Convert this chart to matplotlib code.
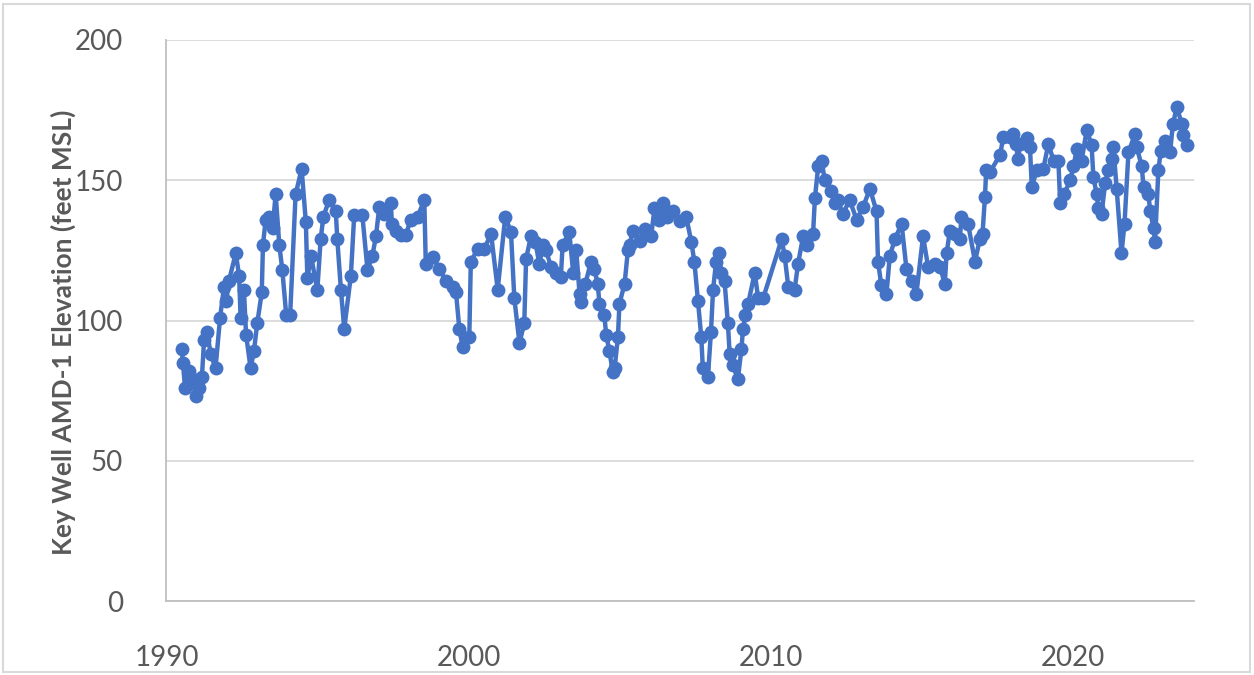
import matplotlib
matplotlib.use("Agg")
import matplotlib.pyplot as plt
from matplotlib.patches import Rectangle

years = [
    1990.49, 1990.53, 1990.60, 1990.73, 1990.85, 1990.95, 1991.05, 1991.16, 1991.23, 1991.33,
    1991.45, 1991.61, 1991.76, 1991.89, 1991.97, 1992.05, 1992.28, 1992.39, 1992.44, 1992.55,
    1992.62, 1992.77, 1992.88, 1992.99, 1993.14, 1993.18, 1993.27, 1993.38, 1993.50, 1993.60,
    1993.72, 1993.82, 1993.95, 1994.08, 1994.26, 1994.46, 1994.60, 1994.65, 1994.77, 1994.98,
    1995.09, 1995.18, 1995.37, 1995.59, 1995.64, 1995.76, 1995.87, 1996.09, 1996.20, 1996.47,
    1996.64, 1996.80, 1996.92, 1997.03, 1997.20, 1997.41, 1997.45, 1997.58, 1997.74, 1997.91,
    1998.07, 1998.30, 1998.52, 1998.57, 1998.80, 1999.02, 1999.24, 1999.46, 1999.57, 1999.68,
    1999.79, 2000.01, 2000.06, 2000.29, 2000.51, 2000.73, 2000.95, 2001.20, 2001.39, 2001.50,
    2001.67, 2001.83, 2001.89, 2002.05, 2002.20, 2002.33, 2002.45, 2002.55, 2002.72, 2002.88,
    2003.04, 2003.10, 2003.32, 2003.45, 2003.55, 2003.66, 2003.71, 2003.85, 2004.04, 2004.15,
    2004.26, 2004.32, 2004.48, 2004.54, 2004.65, 2004.76, 2004.82, 2004.93, 2004.98, 2005.15,
    2005.26, 2005.32, 2005.42, 2005.65, 2005.81, 2006.03, 2006.14, 2006.30, 2006.42, 2006.55,
    2006.75, 2006.97, 2007.19, 2007.36, 2007.46, 2007.58, 2007.69, 2007.74, 2007.91, 2008.01,
    2008.08, 2008.18, 2008.27, 2008.35, 2008.46, 2008.57, 2008.63, 2008.74, 2008.90, 2009.02,
    2009.07, 2009.15, 2009.24, 2009.46, 2009.57, 2009.74, 2010.35, 2010.45, 2010.57, 2010.78,
    2010.89, 2011.06, 2011.20, 2011.39, 2011.45, 2011.56, 2011.67, 2011.78, 2012.00, 2012.10,
    2012.20, 2012.38, 2012.60, 2012.83, 2013.05, 2013.27, 2013.49, 2013.54, 2013.65, 2013.82,
    2013.93, 2014.10, 2014.32, 2014.48, 2014.65, 2014.81, 2015.03, 2015.20, 2015.42, 2015.60,
    2015.75, 2015.81, 2015.92, 2016.10, 2016.25, 2016.30, 2016.52, 2016.75, 2016.91, 2017.00,
    2017.08, 2017.12, 2017.25, 2017.58, 2017.69, 2017.91, 2018.02, 2018.10, 2018.18, 2018.24,
    2018.46, 2018.57, 2018.63, 2018.79, 2019.01, 2019.18, 2019.35, 2019.51, 2019.57, 2019.70,
    2019.90, 2020.01, 2020.12, 2020.28, 2020.45, 2020.61, 2020.67, 2020.78, 2020.83, 2020.94,
    2021.06, 2021.16, 2021.28, 2021.33, 2021.44, 2021.60, 2021.70, 2021.83, 2022.05, 2022.10,
    2022.27, 2022.33, 2022.49, 2022.55, 2022.66, 2022.71, 2022.82, 2022.90, 2023.05, 2023.21,
    2023.30, 2023.43, 2023.60, 2023.65, 2023.76,
]

elevation = [
    90, 85, 76, 82, 79, 73, 76, 80, 93, 96,
    88, 83, 101, 112, 107, 114, 124, 116, 101, 111,
    95, 83, 89, 99, 110, 127, 136, 137, 133, 145,
    127, 118, 102, 102, 145, 154, 135, 115, 123, 111,
    129, 137, 143, 139, 129, 111, 97, 116, 137.5, 137.5,
    118, 123, 130, 140.5, 138, 142, 134.5, 132, 130.5, 130.5,
    136, 137, 143, 120, 122.5, 118.5, 114, 112, 110, 97,
    90.5, 94, 121, 125.5, 125.5, 131, 111, 137, 131.5, 108,
    92, 99, 122, 130, 128, 120, 127, 125, 119, 117,
    115.5, 127, 131.5, 117, 125, 109.5, 106.5, 113, 121, 118.5,
    113, 106, 102, 95, 89, 81.5, 83, 94, 106, 113,
    125, 127, 132, 128.5, 132.5, 130, 140, 136, 142, 137,
    139, 135.5, 137, 128, 121, 107, 94, 83, 80, 96,
    111, 121, 124, 117, 114, 99, 88, 84, 79, 90,
    97, 102, 106, 117, 108, 108, 129, 123, 112, 111,
    120, 130, 127, 131, 143.5, 155, 157, 150, 146, 142,
    143, 138, 143, 136, 140.5, 147, 139, 121, 112.5, 109.5,
    123, 129, 134.5, 118.5, 114, 109.5, 130, 119, 120, 119,
    113, 124, 132, 131, 129, 137, 134.5, 121, 129, 131,
    144, 153.5, 153, 159, 165.5, 165.5, 166.5, 163, 157.5, 163,
    165, 162, 147.5, 153.5, 154, 163, 157, 157, 142, 145,
    150, 155, 161, 157, 168, 162.5, 151, 145, 140, 138,
    149, 153.5, 157.5, 162, 147, 124, 134.5, 160, 166.5, 162,
    155, 147.5, 145, 139, 133, 128, 153.5, 160.5, 164, 160,
    170, 176, 170, 166, 162.5,
]

x_ticks = [1990, 2000, 2010, 2020]
y_ticks = [0, 50, 100, 150, 200]
y_label = "Key Well AMD-1 Elevation (feet MSL)"

W, H = 1254, 675
fig = plt.figure(figsize=(W / 100, H / 100), dpi=100)
ax = fig.add_axes([166 / W, (H - 601) / H, (1194 - 166) / W, (601 - 40) / H])

blue = "#4472C4"
ax.plot(years, elevation, color=blue, lw=3.2, marker="o", markersize=10,
        markeredgewidth=0, solid_joinstyle="round", zorder=3, clip_on=False)

ax.set_xlim(1989.97, 2024.0)
ax.set_ylim(0, 200)
ax.set_xticks(x_ticks)
ax.set_yticks(y_ticks)
ax.grid(axis="y", color="#d9d9d9", lw=1.3)
ax.set_axisbelow(True)
for s in ["top", "right"]:
    ax.spines[s].set_visible(False)
for s in ["left", "bottom"]:
    ax.spines[s].set_color("#bfbfbf")
    ax.spines[s].set_linewidth(1.3)
ax.tick_params(length=0, labelsize=20, labelcolor="#595959")
ax.tick_params(axis="y", pad=31)
ax.tick_params(axis="x", pad=32)
fam = ["Lato", "DejaVu Sans"]
for lab in ax.get_xticklabels() + ax.get_yticklabels():
    lab.set_family(fam)

fig.text(63 / W, 1 - 332 / H, y_label, rotation=90, ha="center", va="center",
         fontsize=19, fontweight="bold", color="#595959", family=fam)

fig.patches.append(Rectangle((3 / W, 3 / H), (W - 7) / W, (H - 7) / H,
                             transform=fig.transFigure, fill=False,
                             edgecolor="#d9d9d9", lw=1.5))

fig.savefig("out.png", dpi=100)
